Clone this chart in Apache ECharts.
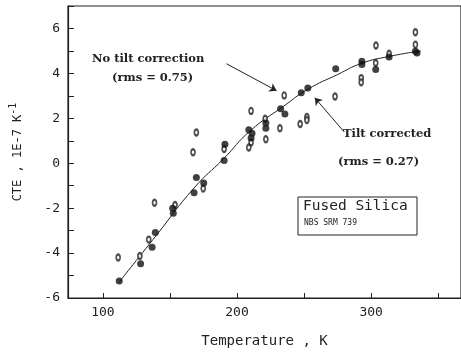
<!DOCTYPE html>
<html>
<head>
<meta charset="utf-8">
<script src="https://cdn.jsdelivr.net/npm/echarts@6/dist/echarts.min.js"></script>
<style>
  html, body { margin: 0; padding: 0; background: #fff; }
  #chart { width: 461px; height: 357px; }
</style>
</head>
<body>
<div id="chart"></div>
<script>
// tilt corrected measurements (filled dots)
const tiltCorrected = [
  [112.2, -5.24], [128.1, -4.48], [136.7, -3.74], [139.1, -3.08],
  [152.0, -2.00], [152.5, -2.23], [168.0, -1.31], [169.7, -0.63],
  [175.2, -0.88], [191.0, 0.85], [190.4, 0.12], [208.8, 1.49],
  [211.2, 1.34], [210.5, 1.12], [221.5, 1.79], [221.5, 1.56],
  [232.5, 2.42], [235.7, 2.19], [247.9, 3.14], [252.8, 3.35],
  [273.6, 4.21], [293.1, 4.54], [293.1, 4.39], [303.4, 4.17],
  [313.4, 4.73], [333.0, 4.98], [334.2, 4.91]
]
// no tilt correction (open "0" markers)
const noTilt = [
  [111.4, -4.20], [127.6, -4.13], [134.2, -3.40], [138.5, -1.76],
  [153.8, -1.86], [174.8, -1.13], [167.2, 0.49], [169.7, 1.37],
  [190.4, 0.63], [210.5, 2.33], [210.5, 0.92], [208.8, 0.70],
  [221.0, 1.98], [221.5, 1.07], [232.0, 1.56], [235.2, 3.02],
  [247.1, 1.75], [252.1, 2.06], [252.1, 1.92], [273.1, 2.97],
  [292.6, 3.79], [292.6, 3.60], [303.6, 5.24], [303.4, 4.46],
  [313.4, 4.87], [333.0, 5.83], [333.0, 5.28]
]
// fitted curve
const fitCurve = [
  [112, -5.3], [140, -3.2], [168, -1.1], [190, 0.2], [210, 1.45],
  [235, 2.55], [253, 3.3], [275, 3.95], [293, 4.45], [313, 4.75], [337, 5.0]
]
const xTicks = [100, 150, 200, 250, 300, 350]
const xLabels = [100, 200, 300]

const chart = echarts.init(document.getElementById('chart'))

const mono = 'DejaVu Sans Mono'
const ink = '#222'
const noteFont = 'bold 11.5px "DejaVu Serif"'

const option = {
  animation: false,
  backgroundColor: '#fff',
  grid: {
    left: 61, top: 6, right: 0, bottom: 59,
    show: true, borderColor: ink, borderWidth: 1.2
  },
  xAxis: {
    type: 'value', min: 74, max: 367,
    name: 'Temperature , K', nameLocation: 'middle', nameGap: 36,
    nameTextStyle: { fontFamily: mono, fontSize: 14, color: ink },
    splitLine: { show: false },
    axisLine: { onZero: false, lineStyle: { color: ink, width: 1.2 } },
    axisTick: { inside: true, length: 5, customValues: xTicks, lineStyle: { color: ink } },
    axisLabel: { customValues: xLabels, fontFamily: mono, fontSize: 13, color: ink, margin: 8 }
  },
  yAxis: {
    type: 'value', min: -6, max: 7, interval: 1,
    name: 'CTE , 1E-7 K{sup|-1}', nameLocation: 'middle', nameGap: 40,
    nameTextStyle: {
      fontFamily: mono, fontSize: 12, color: ink,
      rich: { sup: { fontFamily: mono, fontSize: 10, color: ink, padding: [0, 0, 10, 0] } }
    },
    splitLine: { show: false },
    axisLine: { onZero: false, lineStyle: { color: ink, width: 1.2 } },
    axisTick: { inside: true, length: 6, lineStyle: { color: ink } },
    axisLabel: {
      fontFamily: mono, fontSize: 13, color: ink, margin: 8,
      formatter: (v) => (v % 2 === 0 ? String(v) : '')
    }
  },
  series: [
    {
      name: 'fit', type: 'line', data: fitCurve, smooth: true, symbol: 'none',
      lineStyle: { color: ink, width: 1 }, z: 1,
      markLine: {
        silent: true, symbol: ['none', 'arrow'], symbolSize: 7,
        lineStyle: { color: ink, width: 1, type: 'solid' },
        label: { show: false },
        data: [
          [{ coord: [192.1, 4.43] }, { coord: [229.5, 3.23] }],
          [{ coord: [280, 1.39] }, { coord: [258, 2.91] }]
        ]
      }
    },
    {
      name: 'No tilt correction', type: 'scatter', data: noTilt,
      symbol: 'emptyCircle', symbolSize: [4, 6],
      itemStyle: { color: ink, borderColor: ink, borderWidth: 0.9 }, z: 2
    },
    {
      name: 'Tilt corrected', type: 'scatter', data: tiltCorrected,
      symbol: 'circle', symbolSize: 7,
      itemStyle: { color: '#111' }, z: 3
    }
  ],
  graphic: [
    { type: 'text', left: 92, top: 53, style: { text: 'No tilt correction', font: noteFont, fill: ink } },
    { type: 'text', left: 112, top: 72, style: { text: '(rms = 0.75)', font: noteFont, fill: ink } },
    { type: 'text', left: 343, top: 128, style: { text: 'Tilt corrected', font: noteFont, fill: ink } },
    { type: 'text', left: 338, top: 156, style: { text: '(rms = 0.27)', font: noteFont, fill: ink } },
    { type: 'rect', shape: { x: 298, y: 197, width: 119, height: 38 }, style: { fill: '#fff', stroke: ink, lineWidth: 1 } },
    { type: 'text', left: 303, top: 199, style: { text: 'Fused Silica', font: '14.5px "DejaVu Sans Mono"', fill: ink } },
    { type: 'text', left: 304, top: 219, style: { text: 'NBS SRM 739', font: '8px "DejaVu Sans Mono"', fill: ink } }
  ]
}

chart.setOption(option)
</script>
</body>
</html>
